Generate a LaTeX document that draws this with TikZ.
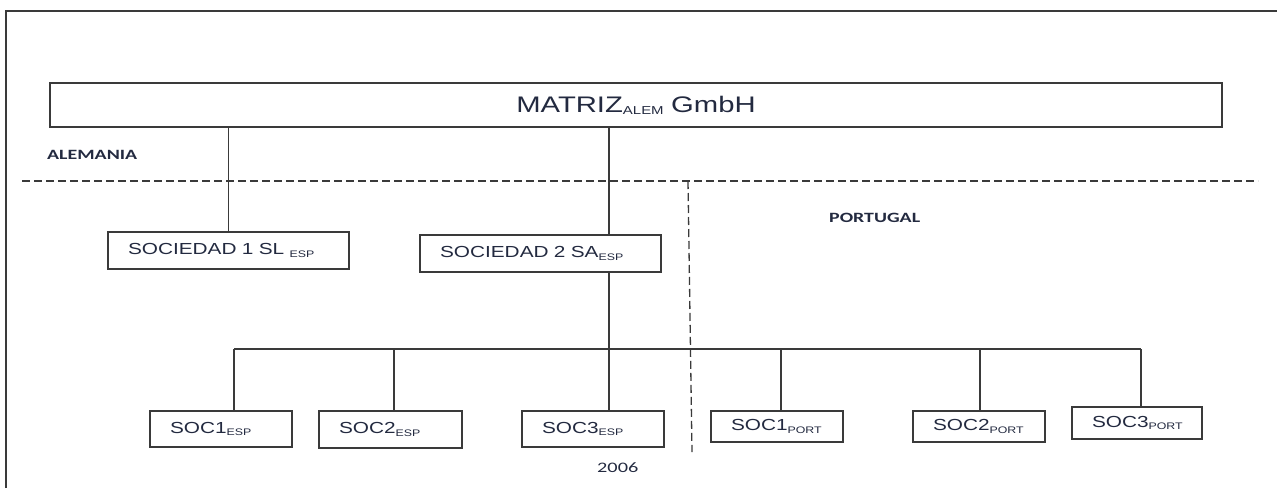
\documentclass[tikz,border=0pt]{standalone}
\usepackage{fontspec}
\setmainfont{Liberation Sans}[FakeStretch=1.3]
\newfontfamily\lblfont{Carlito}[FakeStretch=1.4]
\definecolor{txt}{HTML}{232A40}
\definecolor{ln}{HTML}{3A3A3A}
\newcommand{\subtx}[1]{\raisebox{-0.15em}{\fontsize{9.5}{10}\selectfont #1}}
\tikzset{
  box/.style={draw=ln, line width=1.4pt, anchor=north west, outer sep=0pt,
    inner xsep=20pt, inner ysep=0pt, align=left, text=txt,
    font=\fontsize{16}{18}\selectfont},
  conn/.style={draw=ln, line width=1.1pt},
  border/.style={draw=ln, line width=1.6pt},
  divide/.style={draw=ln, line width=1.3pt, dash pattern=on 8pt off 4pt},
  lbl/.style={anchor=west, inner sep=0pt, text=txt, font=\lblfont\bfseries\fontsize{14.2}{16}\selectfont},
  yrlbl/.style={anchor=west, inner sep=0pt, text=txt, font=\lblfont\fontsize{14.5}{16}\selectfont}
}
\begin{document}
\begin{tikzpicture}[x=1pt,y=-1pt]
\useasboundingbox (0,0) rectangle (1277,488);
% frame (top and left edges visible)
\coordinate (fb) at (6,488);
\coordinate (fc) at (6,11);
\coordinate (fr) at (1277,11);
\draw[border] (fb) -- (fc) -- (fr);

% boxes
\node[box, align=center, text width=1132pt, minimum height=44pt, font=\fontsize{22.5}{24}\selectfont] (m) at (50,83) {MATRIZ{\fontsize{11.5}{12}\selectfont\raisebox{-0.15em}{ALEM}} GmbH};
\node[box, text width=201pt, minimum height=37pt] (s1) at (108,232) {SOCIEDAD 1 SL \subtx{ESP}};
\node[box, text width=201pt, minimum height=37pt] (s2) at (420,235) {SOCIEDAD 2 SA\subtx{ESP}};
\node[box, text width=102pt, minimum height=36pt] (e1) at (150,411) {SOC1\subtx{ESP}};
\node[box, text width=103pt, minimum height=37pt] (e2) at (319,411) {SOC2\subtx{ESP}};
\node[box, text width=102pt, minimum height=36pt] (e3) at (522,411) {SOC3\subtx{ESP}};
\node[box, text width=92pt, minimum height=31pt] (p1) at (711,411) {SOC1\subtx{PORT}};
\node[box, text width=92pt, minimum height=31pt] (p2) at (913,411) {SOC2\subtx{PORT}};
\node[box, text width=90pt, minimum height=32pt] (p3) at (1072,407) {SOC3\subtx{PORT}};

% labels
\node[lbl] (alem) at (47,155) {ALEMANIA};
\node[lbl] (port) at (829,218) {PORTUGAL};
\node[yrlbl] (yr) at (597,468) {2006};

% dividing dashed lines
\coordinate (hl) at (22,181);
\coordinate (hr) at (1258,181);
\coordinate (vt) at (688,181);
\coordinate (vb) at (692,452);
\draw[divide] (hl) -- (hr);
\draw[divide] (vt) -- (vb);

% connectors
\coordinate (c2) at (609,0);
\draw[conn] (s1.north |- m.south) -- (s1.north);
\draw[conn] (c2 |- m.south) -- (c2 |- s2.north);
\draw[conn] (c2 |- s2.south) -- (c2 |- e3.north);
\coordinate (bl) at (234,349);
\coordinate (br) at (1141,349);
\coordinate (d2) at (394,349);
\coordinate (d4) at (781,349);
\coordinate (d5) at (980,349);
\draw[conn] (bl) -- (br);
\draw[conn] (bl) -- (bl |- e1.north);
\draw[conn] (d2) -- (d2 |- e2.north);
\draw[conn] (d4) -- (d4 |- p1.north);
\draw[conn] (d5) -- (d5 |- p2.north);
\draw[conn] (br) -- (br |- p3.north);
\end{tikzpicture}
\end{document}
